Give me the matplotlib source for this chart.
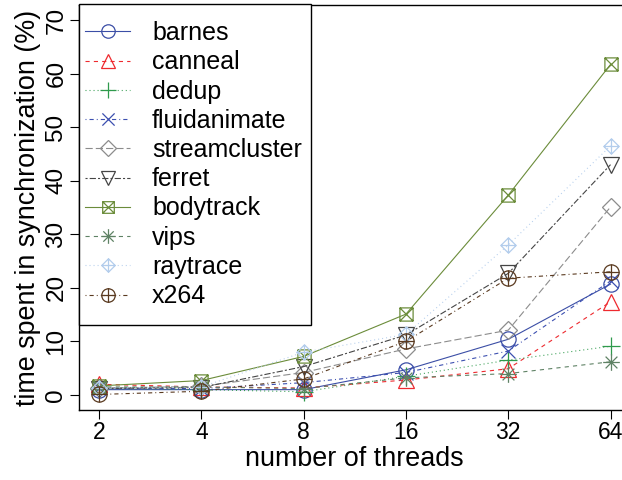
import matplotlib
matplotlib.use('Agg')
import matplotlib.pyplot as plt
from matplotlib.path import Path
from matplotlib.patches import Rectangle
import numpy as np

plt.rcParams['font.family'] = ['Liberation Sans', 'DejaVu Sans']
plt.rcParams['lines.scale_dashes'] = False

# data
threads = [2, 4, 8, 16, 32, 64]
barnes = [1.0, 1.0, 1.0, 4.7, 10.4, 20.7]
canneal = [2.0, 1.5, 1.3, 2.8, 4.9, 17.4]
dedup = [1.2, 1.0, 0.6, 3.5, 6.5, 9.1]
fluidanimate = [1.3, 1.2, 2.3, 4.2, 8.2, 21.3]
streamcluster = [1.3, 1.6, 4.2, 8.6, 12.1, 35.1]
ferret = [1.2, 1.4, 5.3, 11.2, 22.7, 43.0]
bodytrack = [1.7, 2.7, 7.2, 15.1, 37.3, 61.7]
vips = [1.5, 1.5, 1.2, 3.2, 4.0, 6.2]
raytrace = [1.3, 1.5, 8.0, 11.3, 28.0, 46.5]
x264 = [0.1, 0.7, 3.0, 10.0, 21.8, 23.0]

names = ['barnes', 'canneal', 'dedup', 'fluidanimate', 'streamcluster',
         'ferret', 'bodytrack', 'vips', 'raytrace', 'x264']
series = [barnes, canneal, dedup, fluidanimate, streamcluster,
          ferret, bodytrack, vips, raytrace, x264]


# R-like composite markers
def lines_path(segs):
    verts, codes = [], []
    for a, b in segs:
        verts += [a, b]
        codes += [Path.MOVETO, Path.LINETO]
    return Path(verts, codes)


square = Path([(-1, -1), (1, -1), (1, 1), (-1, 1), (-1, -1)],
              [Path.MOVETO] + [Path.LINETO] * 3 + [Path.CLOSEPOLY])
diamond = Path([(0, -1), (1, 0), (0, 1), (-1, 0), (0, -1)],
               [Path.MOVETO] + [Path.LINETO] * 3 + [Path.CLOSEPOLY])
plus = lines_path([((-1, 0), (1, 0)), ((0, -1), (0, 1))])
cross = lines_path([((-1, -1), (1, 1)), ((-1, 1), (1, -1))])
cross7 = lines_path([((-0.707, -0.707), (0.707, 0.707)), ((-0.707, 0.707), (0.707, -0.707))])

box_x = Path.make_compound_path(square, cross)
circ_plus = Path.make_compound_path(Path.unit_circle(), plus)
diam_plus = Path.make_compound_path(diamond, plus)
star8 = Path.make_compound_path(plus, cross7)

markers = ['o', '^', plus, cross, 'D', 'v', box_x, star8, diam_plus, circ_plus]
sizes = [11, 12, 13, 10, 9, 12, 9.5, 12, 11, 11]
colors = ['#3b4ea6', '#ee2a2f', '#2f9a4c', '#3c4fb0', '#8c8c8c',
          '#454545', '#6b8c3a', '#5f8265', '#b3cdec', '#5a3a20']
dashes = [None, (3, 3), (0.7, 2.2), (0.7, 2.2, 3, 2.2), (5.2, 2.2),
          (1.5, 1.5, 4.5, 1.5), None, (3, 3), (0.7, 2.2), (0.7, 2.2, 3, 2.2)]

W, H = 622, 480
fig = plt.figure(figsize=(W / 100, H / 100), dpi=100)
ax = fig.add_axes([78.6 / W, (H - 410) / H, (631 - 78.6) / W, 405 / H])

for name, vals, m, ms, c, d in zip(names, series, markers, sizes, colors, dashes):
    line, = ax.plot(threads, vals, color=c, lw=0.8, marker=m, ms=ms,
                    mfc='none', mec=c, mew=0.9, label=name)
    if d is not None:
        line.set_dashes(d)

ax.set_xscale('log', base=2)
ax.set_xlim(2 ** 0.8, 2 ** 6.2)
ax.set_ylim(-2.8, 72.8)
ax.set_xticks(threads)
ax.set_xticklabels([str(t) for t in threads])
ax.xaxis.set_minor_locator(matplotlib.ticker.NullLocator())
ax.set_yticks(np.arange(0, 71, 10))
ax.tick_params(axis='both', direction='out', length=6.5, width=0.8, pad=1.5)
ax.tick_params(axis='x', labelsize=16.5)
ax.tick_params(axis='y', labelsize=17.5, labelrotation=90)
for lab in ax.get_yticklabels():
    lab.set_verticalalignment('center')
for s in ax.spines.values():
    s.set_linewidth(1.0)

ax.set_xlabel('number of threads', fontsize=19.4, labelpad=1)
ax.set_ylabel('time spent in synchronization (%)', fontsize=19.4, labelpad=3)

# legend box (R style: drawn in the plot corner)
box = Rectangle((79 / W, (H - 325) / H), (311 - 79) / W, (325 - 4) / H,
                transform=fig.transFigure, facecolor='white',
                edgecolor='black', lw=1.0, zorder=4.5, clip_on=False)
ax.add_patch(box)
leg = ax.legend(loc='upper left', bbox_to_anchor=(85 / W, (H - 21) / H),
                bbox_transform=fig.transFigure, borderaxespad=0, borderpad=0,
                frameon=False, fontsize=18, handlelength=1.8,
                handletextpad=0.88, labelspacing=0.21, markerscale=0.88)
leg.set_zorder(5)

fig.savefig('out.png', dpi=100)
